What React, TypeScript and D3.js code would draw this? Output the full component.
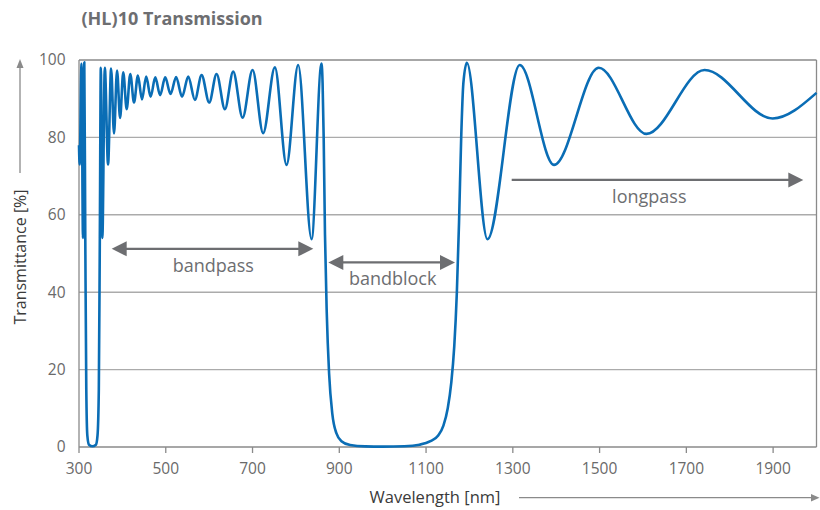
import React from "react";
import * as d3 from "d3";

// ---- data ----
const wavelength = [
  300, 301.5, 305.8, 309.2, 312.2, 314.5, 316.8, 319.2, 323, 331, 339, 342.7, 345.7, 348,
  350.3, 353.8, 359.5, 367, 374, 380.7, 387.7, 394.7, 402, 409.9, 418.2, 426.8, 435.8,
  445.1, 454.9, 465.1, 475.8, 487, 498.7, 511, 523.9, 537.5, 551.8, 567.2, 582.6, 600.1,
  617.2, 636.3, 655.4, 677.1, 700.1, 724.5, 751.5, 778.4, 805.2, 836, 859, 861.5, 864,
  867, 871, 876.5, 884, 893.5, 905, 925, 960, 1000, 1050, 1085, 1110, 1128, 1140, 1150,
  1158, 1165, 1171, 1176, 1181, 1186, 1194, 1241.5, 1316, 1395, 1498, 1608, 1742, 1899, 2000,
];
const transmission = [
  78, 73, 99, 54, 99.4, 54, 15, 3, 0.6, 0.2, 0.6, 3, 15, 54,
  98, 54, 98, 73, 97.8, 81, 97.3, 85, 96.8, 87.3, 96.4, 89, 96,
  89.8, 95.7, 90.5, 95.5, 90.9, 95.5, 91.2, 95.6, 90.5, 95.7, 89.7, 96.1, 89,
  96.4, 87.3, 97, 85.1, 97.4, 81.1, 98.1, 72.9, 98.7, 53.7, 99.1, 94, 80,
  55, 35, 19, 8.5, 3.5, 1.5, 0.5, 0.15, 0.1, 0.2, 0.6, 1.5, 3, 5.5, 10,
  16.5, 26, 40, 58, 80, 94, 99.3, 53.7, 98.7, 72.9, 98, 80.9, 97.4, 84.9, 91.5,
];
const xTicks = [300, 500, 700, 900, 1100, 1300, 1500, 1700, 1900];
const yTicks = [0, 20, 40, 60, 80, 100];

const annotationLabels = ["bandpass", "bandblock", "longpass"];
const annotationFrom = [375.4, 874.7, 1297.4];
const annotationTo = [840.1, 1166.7, 1969.6];
const annotationLevel = [51.2, 47.7, 69];
const annotationTextX = [609.6, 1023, 1614.6];
const annotationTextLevel = [45.1, 41.9, 63];
const annotationDouble = [true, true, false];

const titleText = "(HL)10 Transmission";
const xTitle = "Wavelength [nm]";
const yTitle = "Transmittance [%]";

export default function App() {
  const W = 820;
  const H = 510;
  const x = d3.scaleLinear().domain([300, 2000]).range([79, 816.5]);
  const y = d3.scaleLinear().domain([0, 100]).range([447, 60]);

  const pts: [number, number][] = wavelength.map((w, i) => [w, transmission[i]]);
  const line = d3
    .line<[number, number]>()
    .x((d) => x(d[0]))
    .y((d) => y(d[1]))
    .curve(d3.curveMonotoneX);

  const font = "'Open Sans', 'Noto Sans', sans-serif";
  const gray = "#6d6e71";
  const axisGray = "#8a8a8a";

  const head = (tipX: number, tipY: number, dir: number, len: number, half: number) =>
    `M${tipX},${tipY} L${tipX - dir * len},${tipY - half} L${tipX - dir * len},${tipY + half} Z`;

  return (
    <svg
      width={W}
      height={H}
      style={{ position: "absolute", left: 0, top: 0, display: "block", background: "#fff" }}
    >
      <text x={81.5} y={25} fontFamily={font} fontWeight={700} fontSize={18} fill={gray}>
        {titleText}
      </text>

      {/* grid lines */}
      {yTicks
        .filter((t) => t > 0 && t < 100)
        .map((t) => (
          <line key={t} x1={x(300)} x2={x(2000)} y1={y(t)} y2={y(t)} stroke="#ababab" strokeWidth={1.4} />
        ))}
      {/* frame */}
      <line x1={x(300)} x2={x(2000)} y1={y(100)} y2={y(100)} stroke={axisGray} strokeWidth={1.3} />
      <line x1={x(2000)} x2={x(2000)} y1={y(100)} y2={y(0)} stroke={axisGray} strokeWidth={1.3} />
      <line x1={x(300)} x2={x(300)} y1={y(100)} y2={y(0)} stroke={axisGray} strokeWidth={1.3} />
      <line x1={x(300)} x2={x(2000)} y1={y(0)} y2={y(0)} stroke={axisGray} strokeWidth={1.3} />

      {xTicks.map((t) => (
        <g key={t}>
          <line x1={x(t)} x2={x(t)} y1={y(0)} y2={y(0) + 6} stroke={axisGray} strokeWidth={1.3} />
          <text x={x(t)} y={473.5} textAnchor="middle" fontFamily={font} fontSize={15.5} fill="#6a6a6a">
            {t}
          </text>
        </g>
      ))}
      {yTicks.map((t) => (
        <text key={t} x={65.5} y={y(t) + 5.4} textAnchor="end" fontFamily={font} fontSize={15.5} fill="#6a6a6a">
          {t}
        </text>
      ))}

      {/* axis titles with arrows */}
      <text
        transform={`translate(25.5,257) rotate(-90)`}
        textAnchor="middle"
        fontFamily={font}
        fontSize={16}
        fill="#3a3a3a"
      >
        {yTitle}
      </text>
      <line x1={20} x2={20} y1={173} y2={66} stroke={axisGray} strokeWidth={1.3} />
      <path d={`M20,59 L16.5,68 L23.5,68 Z`} fill={axisGray} />

      <text x={435} y={502.5} textAnchor="middle" fontFamily={font} fontSize={16.5} fill="#3a3a3a">
        {xTitle}
      </text>
      <line x1={519} x2={812} y1={497.7} y2={497.7} stroke={axisGray} strokeWidth={1.3} />
      <path d={`M819.5,497.7 L811,494 L811,501.4 Z`} fill={axisGray} />

      {/* curve */}
      <path d={line(pts) || ""} fill="none" stroke="#0a6db5" strokeWidth={2.6} strokeLinejoin="round" />

      {/* annotations */}
      {annotationLabels.map((lab, i) => {
        const x1 = x(annotationFrom[i]);
        const x2 = x(annotationTo[i]);
        const yy = y(annotationLevel[i]);
        const len = 15;
        const half = 7.5;
        return (
          <g key={lab}>
            <line
              x1={annotationDouble[i] ? x1 + len - 1 : x1}
              x2={x2 - len + 1}
              y1={yy}
              y2={yy}
              stroke={gray}
              strokeWidth={2.3}
            />
            <path d={head(x2, yy, 1, len, half)} fill={gray} />
            {annotationDouble[i] && <path d={head(x1, yy, -1, len, half)} fill={gray} />}
            <text
              x={x(annotationTextX[i])}
              y={y(annotationTextLevel[i])}
              textAnchor="middle"
              fontFamily={font}
              fontSize={18}
              fill={gray}
            >
              {lab}
            </text>
          </g>
        );
      })}
    </svg>
  );
}
